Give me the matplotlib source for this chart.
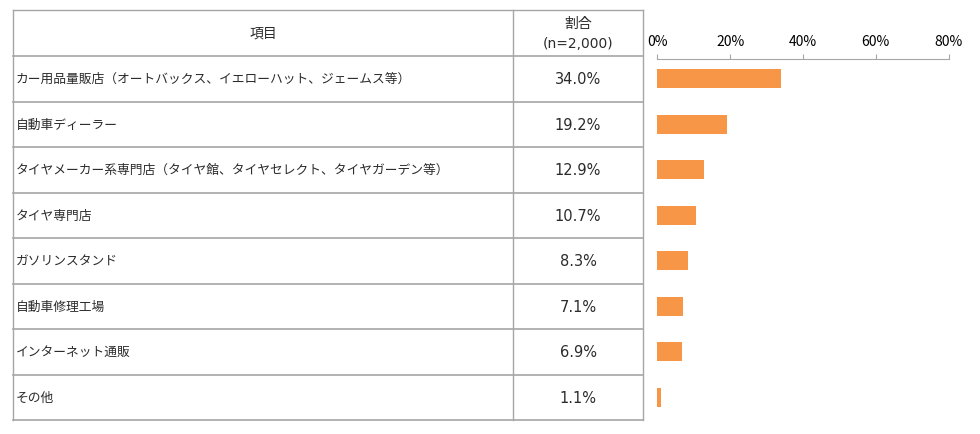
import matplotlib.pyplot as plt

plt.rcParams['font.family'] = ['Noto Sans CJK JP', 'DejaVu Sans']

items = ['カー用品量販店（オートバックス、イエローハット、ジェームス等）',
         '自動車ディーラー',
         'タイヤメーカー系専門店（タイヤ館、タイヤセレクト、タイヤガーデン等）',
         'タイヤ専門店',
         'ガソリンスタンド',
         '自動車修理工場',
         'インターネット通販',
         'その他']
shares = [34.0, 19.2, 12.9, 10.7, 8.3, 7.1, 6.9, 1.1]
xticks = [0, 20, 40, 60, 80]

W, H = 980, 435
fig = plt.figure(figsize=(W / 100, H / 100), dpi=100)

# table drawn in pixel coords (y from top)
tab = fig.add_axes([0, 0, 1, 1])
tab.set_xlim(0, W)
tab.set_ylim(H, 0)
tab.axis('off')

left, mid, right = 13, 513, 643
top, head = 11, 57
rowh = 45.5
n = len(items)
bottom = head + rowh * n
line_c = '#a6a6a6'
txt_c = '#2b2b2b'
latin = ['DejaVu Sans', 'Noto Sans CJK JP']

for x in [left, mid, right]:
    tab.plot([x, x], [top, bottom], color=line_c, lw=1)
tab.plot([left, right], [top, top], color=line_c, lw=1)
for i in range(n + 1):
    y = head + rowh * i
    tab.plot([left, right], [y, y], color=line_c, lw=1.2)

tab.text((left + mid) / 2, (top + head) / 2, '項目', ha='center', va='center',
         fontsize=10, color=txt_c)
tab.text((mid + right) / 2, top + 13, '割合', ha='center', va='center',
         fontsize=10, color=txt_c)
tab.text((mid + right) / 2, top + 33, '(n=2,000)', ha='center', va='center',
         fontsize=10, color=txt_c, family=latin)
for i, (name, v) in enumerate(zip(items, shares)):
    yc = head + rowh * (i + 0.5)
    tab.text(left + 3, yc, name, ha='left', va='center', fontsize=9.2, color=txt_c)
    tab.text((mid + right) / 2, yc, f'{v:.1f}%', ha='center', va='center',
             fontsize=10.5, color=txt_c, family=latin)

# bar chart aligned with table rows
x0, x80 = 657.3, 948.7
ax = fig.add_axes([x0 / W, (H - bottom) / H, (x80 - x0) / W, (bottom - head) / H])
ax.barh(range(n), shares, height=0.42, color='#f79646')
ax.set_xlim(0, 80)
ax.set_ylim(n - 0.5, -0.5)
ax.set_yticks([])
ax.xaxis.tick_top()
ax.set_xticks(xticks)
ax.set_xticklabels([f'{t}%' for t in xticks], fontsize=9, color=txt_c, family=latin)
ax.tick_params(axis='x', direction='out', length=3.6, color=line_c, pad=4)
for s in ['bottom', 'left', 'right']:
    ax.spines[s].set_visible(False)
ax.spines['top'].set_color(line_c)
ax.spines['top'].set_position(('outward', -2))
ax.patch.set_alpha(0)

fig.savefig('out.png', dpi=100)
